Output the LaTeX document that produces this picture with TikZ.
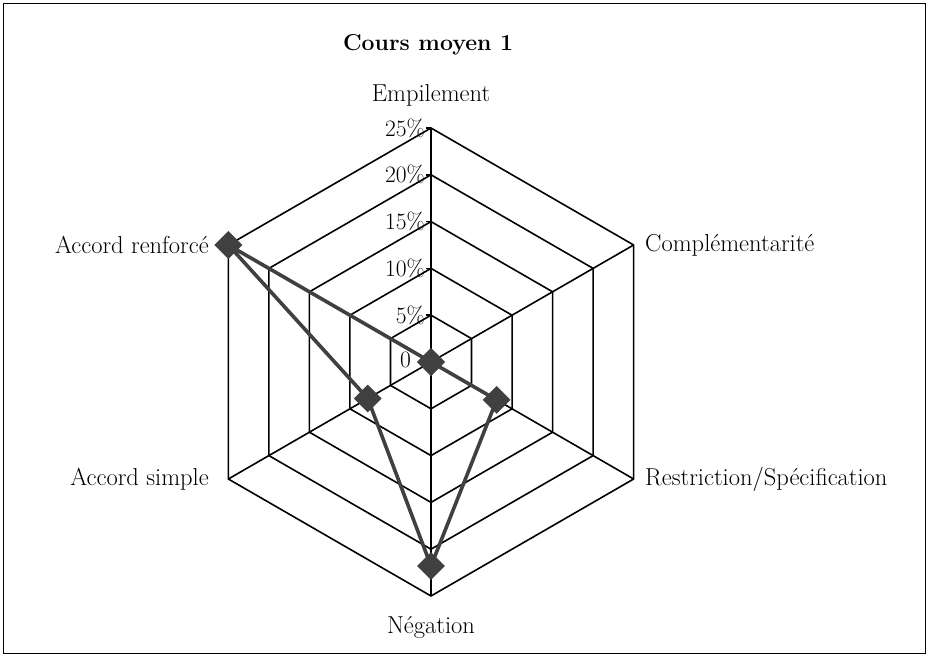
\documentclass[tikz,border=0pt]{standalone}
\usetikzlibrary{shapes.geometric,calc}
\begin{document}
\begin{tikzpicture}[x=1pt,y=1pt,
  grid/.style={black,line width=1.6pt},
  series/.style={draw=black!75,line width=3.6pt,line join=round},
  mk/.style={diamond,fill=black!75,minimum width=28pt,minimum height=28pt,inner sep=0pt},
  lab/.style={font=\fontsize{24.5}{26}\selectfont,inner sep=0pt},
  tick/.style={font=\fontsize{23.5}{25}\selectfont,inner sep=0pt,anchor=east}]
\useasboundingbox (0,0) rectangle (929,657);
\draw[line width=1.6pt] (3.5,3.5) rectangle (925.5,653.5);
\coordinate (O) at (431,295);
% rings
\foreach \k in {1,...,5}{
  \draw[grid] ($(O)+(90:\k*46.8)$) \foreach \a in {30,-30,-90,210,150}{ -- ($(O)+(\a:\k*46.8)$)} -- cycle;
}
\foreach \a in {90,30,-30,-90,210,150}{
  \draw[grid] (O) -- ($(O)+(\a:234)$);
}
% ticks and labels
\foreach \k/\t in {1/5\%,2/10\%,3/15\%,4/20\%,5/25\%}{
  \draw[grid] ($(O)+(0,\k*46.8)$) -- ++(-5,0);
  \node[tick] (t\k) at ($(O)+(-6,\k*46.8)$) {\t};
}
\node[tick] (t0) at ($(O)+(-20,2)$) {0};
% axis labels
\node[lab] (emp) at (431,562) {Empilement};
\node[lab,anchor=west] (comp) at (645,412) {Complémentarité};
\node[lab,anchor=west] (restr) at (645,178) {Restriction/Spécification};
\node[lab] (neg) at (431,30) {Négation};
\node[lab,anchor=east] (asim) at (209,178) {Accord simple};
\node[lab,anchor=east] (aren) at (209,412) {Accord renforcé};
\node[font=\bfseries\fontsize{23}{25}\selectfont,inner sep=0pt] (title) at (428,612) {Cours moyen 1};
% data
\coordinate (p1) at ($(O)+(90:0)$);
\coordinate (p2) at ($(O)+(30:0)$);
\coordinate (p3) at ($(O)+(-30:8.1*9.36)$);
\coordinate (p4) at ($(O)+(-90:21.8*9.36)$);
\coordinate (p5) at ($(O)+(210:7.8*9.36)$);
\coordinate (p6) at ($(O)+(150:25*9.36)$);
\draw[series] (p1) -- (p2) -- (p3) -- (p4) -- (p5) -- (p6) -- cycle;
\foreach \i in {1,...,6}{ \node[mk] (m\i) at (p\i) {}; }
\end{tikzpicture}
\end{document}
